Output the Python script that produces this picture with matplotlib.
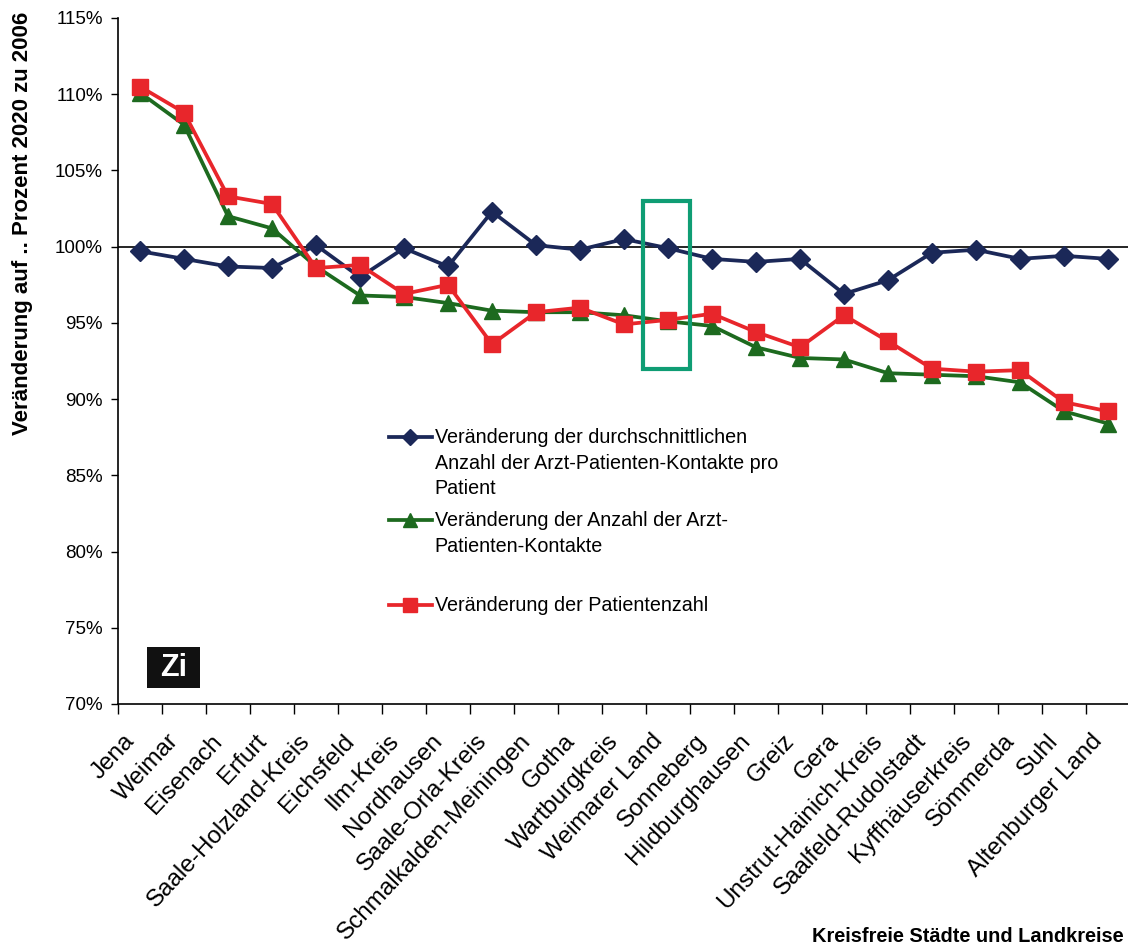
import matplotlib
matplotlib.use("Agg")
import matplotlib.pyplot as plt
import matplotlib.transforms as mtransforms
import numpy as np
from matplotlib.patches import Rectangle
from matplotlib.lines import Line2D

plt.rcParams['font.family'] = ['Liberation Sans', 'DejaVu Sans']

# Kreise in Thüringen, sortiert nach Veränderung der Kontakte
kreise = ['Jena', 'Weimar', 'Eisenach', 'Erfurt', 'Saale-Holzland-Kreis', 'Eichsfeld',
          'Ilm-Kreis', 'Nordhausen', 'Saale-Orla-Kreis', 'Schmalkalden-Meiningen', 'Gotha',
          'Wartburgkreis', 'Weimarer Land', 'Sonneberg', 'Hildburghausen', 'Greiz', 'Gera',
          'Unstrut-Hainich-Kreis', 'Saalfeld-Rudolstadt', 'Kyffhäuserkreis', 'Sömmerda',
          'Suhl', 'Altenburger Land']

# Veränderung 2020 zu 2006 in Prozent
kontakte_pro_patient = [99.7, 99.2, 98.7, 98.6, 100.1, 98.0, 99.9, 98.7, 102.3, 100.1, 99.8,
                        100.5, 99.9, 99.2, 99.0, 99.2, 96.9, 97.8, 99.6, 99.8, 99.2, 99.4, 99.2]
kontakte = [110.1, 108.0, 102.0, 101.2, 98.7, 96.8, 96.7, 96.3, 95.8, 95.7, 95.7,
            95.5, 95.1, 94.8, 93.4, 92.7, 92.6, 91.7, 91.6, 91.5, 91.1, 89.2, 88.4]
patienten = [110.5, 108.8, 103.3, 102.8, 98.6, 98.8, 96.9, 97.5, 93.6, 95.7, 96.0,
             94.9, 95.2, 95.6, 94.4, 93.4, 95.5, 93.8, 92.0, 91.8, 91.9, 89.8, 89.2]

legend_labels = ['Veränderung der durchschnittlichen\nAnzahl der Arzt-Patienten-Kontakte pro\nPatient',
                 'Veränderung der Anzahl der Arzt-\nPatienten-Kontakte',
                 'Veränderung der Patientenzahl']

blau = '#1b2858'
gruen = '#1d6a1f'
rot = '#e8262b'

fig = plt.figure(figsize=(11.28, 9.44), dpi=100)
ax = fig.add_axes([118 / 1128, 1 - 704 / 944, 1012 / 1128, 686 / 944])

x = np.arange(len(kreise))
ax.axhline(100, color='black', lw=1.2, zorder=1)
ax.plot(x, kontakte_pro_patient, color=blau, lw=2.7, marker='D', ms=10, zorder=3, clip_on=False)
ax.plot(x, kontakte, color=gruen, lw=2.7, marker='^', ms=11.5, zorder=3, clip_on=False)
ax.plot(x, patienten, color=rot, lw=2.7, marker='s', ms=11.5, zorder=4, clip_on=False)

ax.set_xlim(-0.5, len(kreise) - 0.5)
ax.set_ylim(70, 115)
ax.set_yticks(np.arange(70, 116, 5))
ax.set_yticklabels([f'{v}%' for v in range(70, 116, 5)], fontsize=13.5)
ax.tick_params(axis='y', direction='out', length=5, width=1, pad=6)

ax.set_xticks(x)
ax.set_xticklabels(kreise, rotation=47, ha='right', rotation_mode='anchor', fontsize=17.5)
ax.set_xticks(np.arange(-0.5, len(kreise), 1), minor=True)
ax.tick_params(axis='x', which='major', length=0, pad=13)
ax.tick_params(axis='x', which='minor', direction='out', length=7, width=1)

# Beschriftungen etwas nach links unten versetzen
versatz = mtransforms.ScaledTranslation(-0.17, -0.08, fig.dpi_scale_trans)
for lbl in ax.get_xticklabels():
    lbl.set_transform(lbl.get_transform() + versatz)

for side in ('top', 'right'):
    ax.spines[side].set_visible(False)
for side in ('left', 'bottom'):
    ax.spines[side].set_linewidth(1.2)

ax.set_ylabel('Veränderung auf .. Prozent 2020 zu 2006', fontsize=16, fontweight='bold')
ax.yaxis.set_label_coords(-0.084, 0.70)
fig.text(812 / 1128, 1 - 936 / 944, 'Kreisfreie Städte und Landkreise', fontsize=14.4,
         fontweight='bold', ha='left', va='center')

# Legende ohne Rahmen, Symbol auf Höhe der ersten Zeile
eintraege = [(blau, 'D', 8.5, 0.389), (gruen, '^', 10, 0.268), (rot, 's', 10, 0.144)]
for (farbe, marker, ms, yy), text in zip(eintraege, legend_labels):
    ax.add_line(Line2D([0.268, 0.289, 0.31], [yy, yy, yy], transform=ax.transAxes,
                       color=farbe, lw=2.7, marker=marker, ms=ms, markevery=[1], zorder=5))
    ax.text(0.313, yy + 0.0135, text, transform=ax.transAxes, fontsize=14.2,
            ha='left', va='top', linespacing=1.45)

# Logo unten links
ax.add_patch(Rectangle((29 / 1012, 16 / 686), 53 / 1012, 41 / 686, transform=ax.transAxes,
                       facecolor='#111111', edgecolor='none', zorder=5))
ax.text(55.5 / 1012, 36.5 / 686, 'Zi', transform=ax.transAxes, color='white',
        fontsize=22, fontweight='bold', ha='center', va='center', zorder=6)

# Markierung um Weimarer Land
ax.add_patch(Rectangle((11.43, 92.0), 1.07, 11.0, facecolor='none', edgecolor='#0f9d74',
                       lw=3, zorder=6, clip_on=False))

fig.savefig('out.png', dpi=100)
